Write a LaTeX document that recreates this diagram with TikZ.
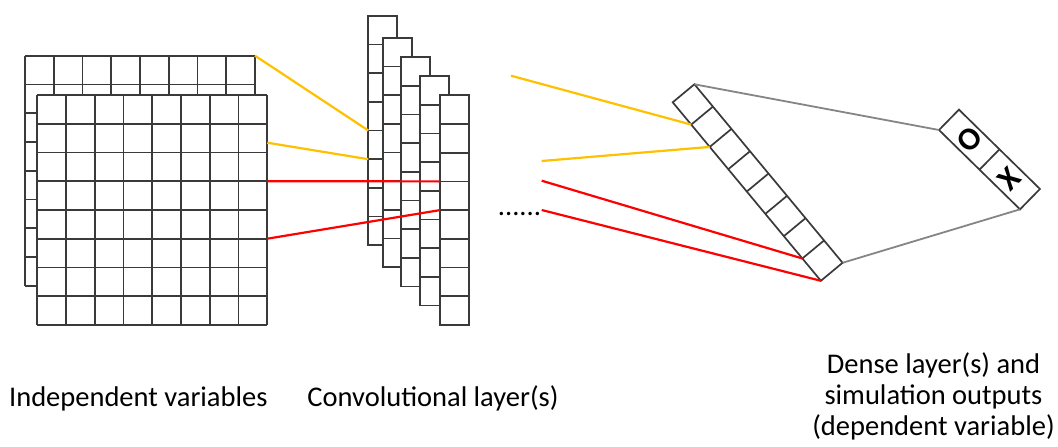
\documentclass[tikz,border=0pt]{standalone}
\usepackage{fontspec}
\setmainfont{Carlito}
\definecolor{gridc}{HTML}{3A3A3A}
\definecolor{linkgray}{HTML}{858585}
\definecolor{gold}{HTML}{FFC000}
\definecolor{hotred}{HTML}{FF0000}
\begin{document}
\begin{tikzpicture}[x=1pt,y=-1pt,
  gridline/.style={draw=gridc, line width=1.7pt},
  yellowlink/.style={draw=gold, line width=2.2pt},
  redlink/.style={draw=hotred, line width=2.2pt},
  graylink/.style={draw=linkgray, line width=1.8pt},
  caption/.style={font=\fontsize{28.5}{31.2}\selectfont, inner sep=0pt, anchor=base},
  outletter/.style={font=\fontsize{32}{32}\selectfont\bfseries, inner sep=0pt}]
\useasboundingbox (0,0) rectangle (1058,447);

% input grids: 8x8 cells, back sheet then front sheet
\foreach \gx/\gy [count=\g] in {25/55.7, 37.3/95} {
  \begin{scope}[shift={(\gx,\gy)}]
    \fill[white] (0,0) rectangle (230,230);
    \foreach \i in {0,...,8} {
      \draw[gridline] (\i*28.75,0) -- (\i*28.75,230);
      \draw[gridline] (0,\i*28.75) -- (230,\i*28.75);
    }
  \end{scope}
}
\coordinate (gA) at (255,55.7);
\coordinate (gB) at (267.3,142.7);
\coordinate (gC) at (267.3,181.2);
\coordinate (gD) at (267.3,238.7);

% convolutional feature columns
\foreach \cx/\cy [count=\c] in {368.3/15.7, 382.7/37.7, 401.3/57, 420.3/76, 440/95.3} {
  \begin{scope}[shift={(\cx,\cy)}]
    \fill[white] (0,0) rectangle (29,229.6);
    \draw[gridline] (0,0) rectangle (29,229.6);
    \foreach \i in {1,...,7} \draw[gridline] (0,\i*28.7) -- (29,\i*28.7);
    \coordinate (col\c-3) at (0,3*28.7);
    \coordinate (col\c-4) at (0,4*28.7);
    \coordinate (col\c-5) at (0,5*28.7);
  \end{scope}
}

% dense layer strip
\begin{scope}[shift={(672.7,102.3)}, rotate=39.7]
  \fill[white] (0,0) rectangle (28.2,232);
  \draw[gridline] (0,0) rectangle (28.2,232);
  \foreach \i in {1,...,7} \draw[gridline] (0,\i*29) -- (28.2,\i*29);
  \coordinate (d1) at (0,29);
  \coordinate (d2) at (0,58);
  \coordinate (d7) at (0,203);
  \coordinate (d8) at (0,232);
  \coordinate (dtop) at (28.2,0);
  \coordinate (dbot) at (28.2,232);
\end{scope}

% output strip
\begin{scope}[shift={(939,130)}, rotate=45.6]
  \fill[white] (0,0) rectangle (28.5,113.4);
  \draw[gridline] (0,0) rectangle (28.5,113.4);
  \draw[gridline] (0,56.7) -- (28.5,56.7);
  \coordinate (oleft) at (0,0);
  \coordinate (obot) at (0,113.4);
  \node[outletter, rotate=45.6] (outO) at (14.25,28.35) {O};
  \node[outletter, rotate=45.6] (outX) at (14.25,85.05) {X};
\end{scope}

% connections input -> convolution
\draw[yellowlink] (gA) -- (col1-4);
\draw[yellowlink] (gB) -- (col1-5);
\draw[redlink] (gC) -- (col5-3);
\draw[redlink] (gD) -- (col5-4);

% connections convolution -> dense
\coordinate (y3s) at (511,75.7);
\coordinate (y4s) at (541.7,161);
\coordinate (r3s) at (541.7,180.7);
\coordinate (r4s) at (541.7,210);
\draw[yellowlink] (y3s) -- (d1);
\draw[yellowlink] (y4s) -- (d2);
\draw[redlink] (r3s) -- (d7);
\draw[redlink] (r4s) -- (d8);

% dense -> output
\draw[graylink] (dtop) -- (oleft);
\draw[graylink] (dbot) -- (obot);

\node[caption] (dots) at (519.5,215.5) {......};

% captions
\node[caption] (capIn) at (138.3,406.7) {Independent variables};
\node[caption] (capConv) at (433,406.7) {Convolutional layer(s)};
\node[caption] (capOut1) at (933.5,373.3) {Dense layer(s) and};
\node[caption] (capOut2) at (933.5,404.5) {simulation outputs};
\node[caption] (capOut3) at (933.5,435.7) {(dependent variable)};
\end{tikzpicture}
\end{document}
